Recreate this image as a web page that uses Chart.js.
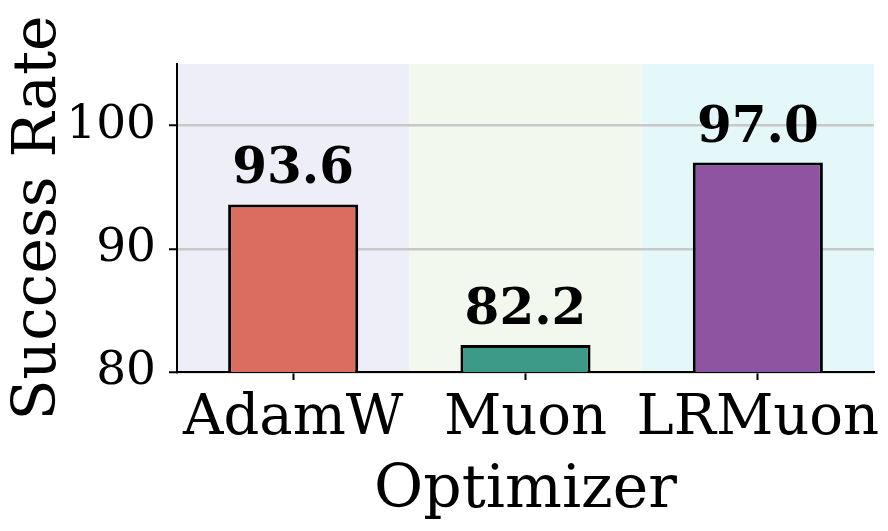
<!DOCTYPE html>
<html>
<head>
<meta charset="utf-8">
<script src="https://cdn.jsdelivr.net/npm/chart.js@4/dist/chart.umd.min.js"></script>
<style>
  html, body { margin: 0; padding: 0; background: #fff; }
  canvas { display: block; }
</style>
</head>
<body>
<canvas id="chart" width="888" height="531"></canvas>
<script>
// data
const optimizers = ["AdamW", "Muon", "LRMuon"];
const successRate = [93.6, 82.2, 97.0];
const yTicks = [80, 90, 100];

// colours
const barColors = ["#db6d60", "#3e9a88", "#8f54a1"];
const bandColors = ["#eeeef8", "#f2f8ee", "#e4f8fa"];
const serif = "'DejaVu Serif', serif";

// background band behind each category
const bandsPlugin = {
  id: "bands",
  beforeDraw(chart) {
    const { ctx, chartArea, scales } = chart;
    const x = scales.x;
    const step = (chartArea.right - chartArea.left) / optimizers.length;
    ctx.save();
    optimizers.forEach((name, i) => {
      const cx = x.getPixelForValue(i);
      ctx.fillStyle = bandColors[i];
      ctx.fillRect(cx - step / 2, chartArea.top, step, chartArea.bottom - chartArea.top);
    });
    ctx.restore();
  },
};

// bold value on top of each bar
const valueLabels = {
  id: "valueLabels",
  afterDatasetsDraw(chart) {
    const { ctx } = chart;
    const meta = chart.getDatasetMeta(0);
    ctx.save();
    ctx.font = "bold 50px " + serif;
    ctx.fillStyle = "#000";
    ctx.textAlign = "center";
    ctx.textBaseline = "alphabetic";
    meta.data.forEach((bar, i) => {
      ctx.fillText(successRate[i].toFixed(1), bar.x, bar.y - 21);
    });
    ctx.restore();
  },
};

new Chart(document.getElementById("chart"), {
  type: "bar",
  data: {
    labels: optimizers,
    datasets: [
      {
        data: successRate,
        backgroundColor: barColors,
        borderColor: "#000",
        borderWidth: 3,
        borderSkipped: false,
        barPercentage: 0.56,
        categoryPercentage: 1,
      },
    ],
  },
  options: {
    responsive: false,
    animation: false,
    devicePixelRatio: 1,
    layout: { padding: { top: 64, right: 14, left: 0, bottom: 0 } },
    plugins: {
      legend: { display: false },
      tooltip: { enabled: false },
    },
    scales: {
      x: {
        afterFit(scale) { scale.height = 159; },
        grid: {
          offset: false,
          drawOnChartArea: false,
          drawTicks: true,
          tickLength: 8,
          tickWidth: 2,
          tickColor: "#000",
        },
        border: { color: "#000", width: 2 },
        ticks: {
          color: "#000",
          padding: 6,
          autoSkip: false,
          maxRotation: 0,
          font: { family: serif, size: 56 },
        },
        title: {
          display: true,
          text: "Optimizer",
          color: "#000",
          padding: { top: 0, bottom: 10 },
          font: { family: serif, size: 60, lineHeight: 1 },
        },
      },
      y: {
        min: 80,
        max: 105,
        afterFit(scale) { scale.width = 177; },
        afterBuildTicks(scale) { scale.ticks = yTicks.map((v) => ({ value: v })); },
        grid: {
          color: "#c8c8c8",
          lineWidth: 2.5,
          drawTicks: true,
          tickLength: 8,
          tickWidth: 2,
          tickColor: "#000",
        },
        border: { color: "#000", width: 2 },
        ticks: {
          color: "#000",
          padding: 13,
          font: { family: serif, size: 47 },
        },
        title: {
          display: true,
          text: "Success Rate",
          color: "#000",
          padding: { top: 9, bottom: 0 },
          font: { family: serif, size: 60, lineHeight: 1 },
        },
      },
    },
  },
  plugins: [bandsPlugin, valueLabels],
});
</script>
</body>
</html>
